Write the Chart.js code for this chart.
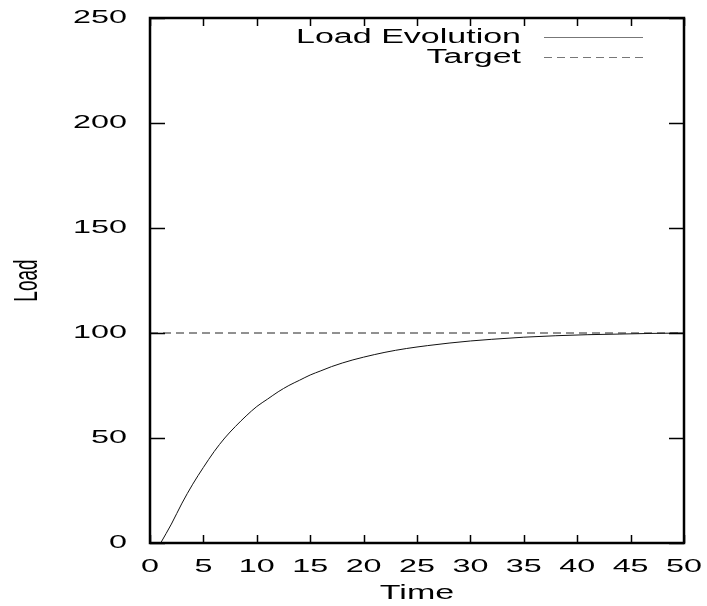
<!DOCTYPE html>
<html>
<head>
<meta charset="utf-8">
<script src="https://cdn.jsdelivr.net/npm/chart.js@4"></script>
<style>
  html, body { margin: 0; padding: 0; background: #fff; }
  #wrap { width: 707px; height: 606px; }
</style>
</head>
<body>
<div id="wrap"><canvas id="loadChart"></canvas></div>
<script>
// values
time_values = [1, 2, 3, 4, 5, 6, 7, 8, 9, 10, 11, 12, 13, 14, 15, 16, 17, 18, 19, 20,
               22, 24, 26, 28, 30, 32, 35, 38, 41, 44, 47, 50]
load_values = [0, 9, 19, 28, 36, 43.5, 50, 55.5, 60.5, 65, 68.5, 72, 75, 77.5, 80, 82, 84, 85.7, 87.2, 88.5,
               90.8, 92.6, 94, 95.2, 96.2, 97, 98, 98.7, 99.2, 99.5, 99.8, 100]
target_time = [0, 50]
target_load = [100, 100]
series_labels = ['Load Evolution', 'Target']

load_points = []
time_values.forEach(function(t, i){
  load_points.push({x: t, y: load_values[i]})
});
target_points = []
target_time.forEach(function(t, i){
  target_points.push({x: t, y: target_load[i]})
});

const FONT = '"Liberation Sans", Arial, sans-serif'
const STRETCH = 1.7  // the reference's lettering is wide, stretched sideways on screen

const loadCanvas = document.getElementById('loadChart')
const ctx2d = loadCanvas.getContext('2d')
const baseFillText = ctx2d.fillText
ctx2d.fillText = function(text, x, y) {
  const m = this.getTransform()
  this.save()
  this.translate(x, y)
  if (Math.abs(m.b) > 0.5) {
    this.scale(1, STRETCH)   // rotated title: widen along screen x
  } else {
    this.scale(STRETCH, 1)
  }
  baseFillText.call(this, text, 0, 0)
  this.restore()
}

// gnuplot-like frame, inward ticks on all four sides, legend with samples on the right
const gnuplotFrame = {
  id: 'gnuplotFrame',
  afterDraw(chart) {
    const ctx = chart.ctx
    const a = chart.chartArea
    const xs = chart.scales.x
    const ys = chart.scales.y
    ctx.save()
    ctx.strokeStyle = '#000'
    ctx.lineWidth = 1.5
    ctx.beginPath()
    xs.ticks.forEach(function(t){
      const px = Math.round(xs.getPixelForValue(t.value)) + 0.5
      ctx.moveTo(px, a.bottom); ctx.lineTo(px, a.bottom - 8)
      ctx.moveTo(px, a.top); ctx.lineTo(px, a.top + 8)
    })
    ys.ticks.forEach(function(t){
      const py = Math.round(ys.getPixelForValue(t.value)) + 0.5
      ctx.moveTo(a.left, py); ctx.lineTo(a.left + 15, py)
      ctx.moveTo(a.right, py); ctx.lineTo(a.right - 15, py)
    })
    ctx.stroke()
    ctx.lineWidth = 2.5
    ctx.strokeRect(a.left, a.top, a.right - a.left, a.bottom - a.top)

    // legend
    ctx.font = '20px ' + FONT
    ctx.fillStyle = '#000'
    ctx.textAlign = 'right'
    ctx.textBaseline = 'middle'
    const rows = [37, 57]
    chart.data.datasets.forEach(function(ds, i){
      ctx.fillText(ds.label, 521, rows[i])
      ctx.beginPath()
      ctx.strokeStyle = '#777'
      ctx.lineWidth = 1
      ctx.setLineDash(ds.borderDash || [])
      ctx.moveTo(544, rows[i] + 0.5)
      ctx.lineTo(643, rows[i] + 0.5)
      ctx.stroke()
      ctx.setLineDash([])
    })
    ctx.restore()
  }
}

new Chart(
  loadCanvas,
  {
    type: 'line',
    data: {
      datasets: [
        {
          label: series_labels[0],
          data: load_points,
          borderColor: '#111',
          borderWidth: 1,
          pointRadius: 0,
          cubicInterpolationMode: 'monotone',
          fill: false
        },
        {
          label: series_labels[1],
          data: target_points,
          borderColor: '#222',
          borderWidth: 1,
          borderDash: [8, 5],
          pointRadius: 0,
          fill: false
        },
      ]
    },
    plugins: [gnuplotFrame],
    options: {
      responsive: true,
      maintainAspectRatio: false,
      animation: false,
      layout: {padding: {top: 18, right: 23, left: 0, bottom: 0}},
      plugins: {
        legend: {display: false},
        tooltip: {enabled: false}
      },
      scales: {
        x: {
          type: 'linear',
          min: 0,
          max: 50,
          grid: {display: false, drawTicks: false},
          border: {display: false},
          ticks: {stepSize: 5, padding: 12, color: '#000', maxRotation: 0, autoSkip: false, font: {family: FONT, size: 19}},
          title: {display: true, text: 'Time', color: '#000', padding: {top: 0, bottom: 1}, font: {family: FONT, size: 20}},
          afterFit: function(scale) { scale.height = 63 }
        },
        y: {
          min: 0,
          max: 250,
          grid: {display: false, drawTicks: false},
          border: {display: false},
          ticks: {stepSize: 50, padding: 23, color: '#000', font: {family: FONT, size: 19}},
          title: {display: true, text: 'Load', color: '#000', padding: {top: 17, bottom: 0}, font: {family: FONT, size: 19}},
          afterFit: function(scale) {
            scale.width = 150
            scale.paddingTop = 0
            scale.paddingBottom = 0
          }
        }
      }
    },
  }
);
</script>
</body>
</html>
